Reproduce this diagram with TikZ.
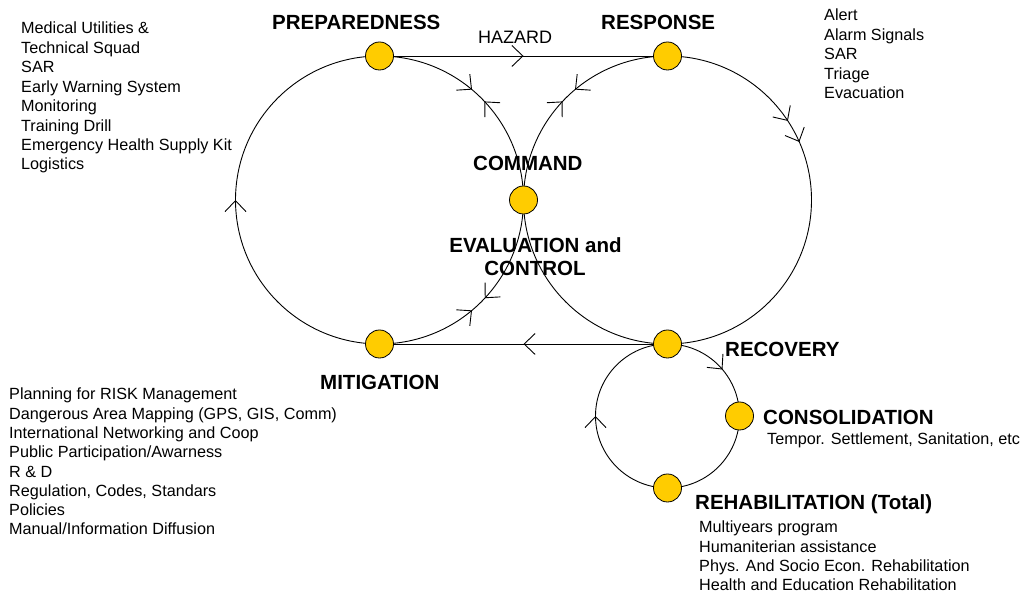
\documentclass[tikz,border=0pt]{standalone}
\usepackage{fontspec}
\setmainfont{Liberation Sans}
\usetikzlibrary{arrows.meta,decorations.markings,backgrounds}
\definecolor{nodeyellow}{HTML}{FFCC00}
\newcommand\lsttext{\fontsize{16.2}{19.4}\selectfont}
\newcommand\hdrtext{\fontsize{20.5}{24}\selectfont\bfseries}
\begin{document}
\begin{tikzpicture}[x=1pt,y=1pt,
  stage/.style={circle,draw=black,line width=0.8pt,fill=nodeyellow,minimum size=28pt,inner sep=0pt},
  conn/.style={draw=black,line width=0.9pt},
  hdr/.style={font=\hdrtext,inner sep=0pt,anchor=base west},
  lst/.style={font=\lsttext,inner sep=0pt,anchor=north west,align=left},
  barb/.tip={Straight Barb[length=11pt,width=21pt,line width=0.9pt]},
  fwd/.style={postaction={decorate},decoration={markings,mark=at position #1 with {\arrow{barb}}}},
  fwdrev/.style 2 args={postaction={decorate},decoration={markings,
     mark=at position #1 with {\arrow{barb}},
     mark=at position #2 with {\arrowreversed{barb}}}},
  fwdfwd/.style 2 args={postaction={decorate},decoration={markings,
     mark=at position #1 with {\arrow{barb}},
     mark=at position #2 with {\arrow{barb}}}}
]
\useasboundingbox (0,0) rectangle (1026,593);

% stage nodes
\node[stage] (prep)  at (379.5,537) {};
\node[stage] (resp)  at (667.5,537) {};
\node[stage] (cmd)   at (523.5,393) {};
\node[stage] (mitig) at (379.5,249) {};
\node[stage] (rec)   at (667.5,249) {};
\node[stage] (cons)  at (739.5,177) {};
\node[stage] (rehab) at (667.5,105) {};

% connectors
\begin{scope}[on background layer]
  \draw[conn,fwd=0.5] (prep.center) -- (resp.center);
  \draw[conn,fwd=0.5] (rec.center) -- (mitig.center);
  % left circle
  \draw[conn,fwdrev={0.444}{0.52}] (prep.center) arc[start angle=90,end angle=0,radius=144];
  \draw[conn,fwdrev={0.478}{0.556}] (cmd.center) arc[start angle=0,end angle=-90,radius=144];
  \draw[conn,fwd=0.5] (mitig.center) arc[start angle=-90,end angle=-270,radius=144];
  % right circle
  \draw[conn,fwdrev={0.48}{0.556}] (cmd.center) arc[start angle=180,end angle=90,radius=144];
  \draw[conn,fwdfwd={0.315}{0.368}] (resp.center) arc[start angle=90,end angle=-90,radius=144];
  \draw[conn] (cmd.center) arc[start angle=180,end angle=270,radius=144];
  % small circle
  \draw[conn,fwd=0.553] (rec.center) arc[start angle=90,end angle=0,radius=72];
  \draw[conn] (cons.center) arc[start angle=0,end angle=-90,radius=72];
  \draw[conn,fwd=0.5] (rehab.center) arc[start angle=-90,end angle=-270,radius=72];
\end{scope}

% headers
\node[hdr] (lprep) at (272,563) {PREPAREDNESS};
\node[hdr] (lresp) at (601,563) {RESPONSE};
\node[hdr] (lcmd)  at (473,422) {COMMAND};
\node[hdr,anchor=base] (leval) at (535.5,340) {EVALUATION and};
\node[hdr,anchor=base] (lctrl) at (535,317) {CONTROL};
\node[hdr] (lmitig) at (320,203) {MITIGATION};
\node[hdr] (lrec)  at (725,236) {RECOVERY};
\node[hdr] (lcons) at (763,168) {CONSOLIDATION};
\node[hdr] (lrehab) at (695,83) {REHABILITATION (Total)};
\node[font=\fontsize{18}{20}\selectfont,inner sep=0pt,anchor=base west] (lhaz) at (478,549.5) {HAZARD};

% lists
\node[lst,font=\fontsize{16.2}{19.43}\selectfont] (tprep) at (21,571) {Medical Utilities \&\\Technical Squad\\SAR\\Early Warning System\\Monitoring\\Training Drill\\Emergency Health Supply Kit\\Logistics};
\node[lst,font=\fontsize{16.2}{19.5}\selectfont] (tresp) at (824,584) {Alert\\Alarm Signals\\SAR\\Triage\\Evacuation};
\node[lst,font=\fontsize{16.2}{19.29}\selectfont] (tmitig) at (9,205) {Planning for RISK Management\\Dangerous Area Mapping (GPS, GIS, Comm)\\International Networking and Coop\\Public Participation/Awarness\\R \& D\\Regulation, Codes, Standars\\Policies\\Manual/Information Diffusion};
\node[lst,font=\fontsize{16.2}{19.2}\selectfont] (trehab) at (699,72) {Multiyears program\\Humaniterian assistance\\Phys. And Socio Econ. Rehabilitation\\Health and Education Rehabilitation};
\node[font=\lsttext,inner sep=0pt,anchor=base west] (tcons) at (767,148.5) {Tempor. Settlement, Sanitation, etc};
\end{tikzpicture}
\end{document}
